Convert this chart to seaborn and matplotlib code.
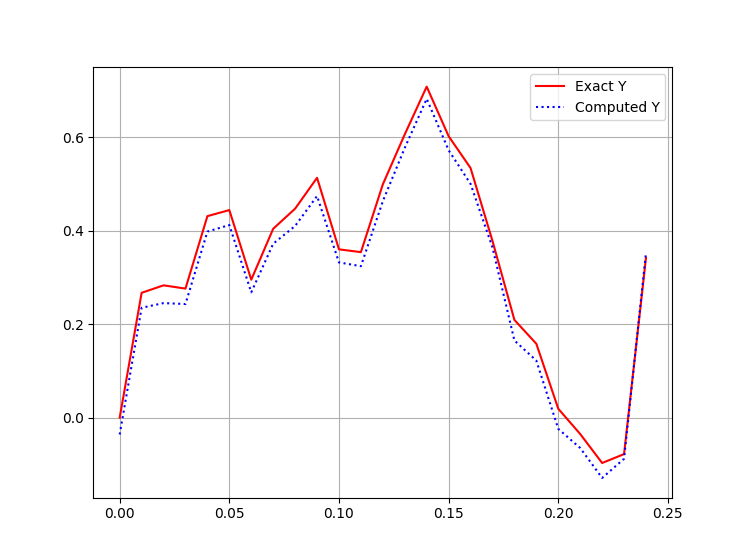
import numpy as np
import pandas as pd
import matplotlib
matplotlib.use("Agg")
import matplotlib.pyplot as plt
import seaborn as sns

# x positions and the two series
x_values = [0.00, 0.01, 0.02, 0.03, 0.04, 0.05, 0.06, 0.07, 0.08, 0.09,
            0.10, 0.11, 0.12, 0.13, 0.14, 0.15, 0.16, 0.17, 0.18, 0.19,
            0.20, 0.21, 0.22, 0.23, 0.24]
exact_y = [0.000, 0.267, 0.283, 0.276, 0.431, 0.444, 0.295, 0.404, 0.447, 0.513,
           0.360, 0.354, 0.499, 0.606, 0.708, 0.602, 0.534, 0.378, 0.209, 0.158,
           0.019, -0.035, -0.097, -0.078, 0.342]
computed_y = [-0.036, 0.235, 0.245, 0.243, 0.398, 0.412, 0.268, 0.372, 0.410, 0.474,
              0.332, 0.324, 0.463, 0.577, 0.682, 0.572, 0.500, 0.364, 0.165, 0.122,
              -0.024, -0.065, -0.129, -0.088, 0.353]

df = pd.DataFrame({'x': x_values, 'exact': exact_y, 'computed': computed_y})

fig, ax = plt.subplots(figsize=(7.47, 5.59), dpi=100)

sns.lineplot(data=df, x='x', y='exact', ax=ax, color='red',
             linewidth=1.5, label='Exact Y')
sns.lineplot(data=df, x='x', y='computed', ax=ax, color='blue',
             linestyle=':', linewidth=1.5, label='Computed Y')

ax.set_xlabel('')
ax.set_ylabel('')
ax.grid(True)
ax.legend(loc='upper right')

plt.savefig('out.png', dpi=100)
